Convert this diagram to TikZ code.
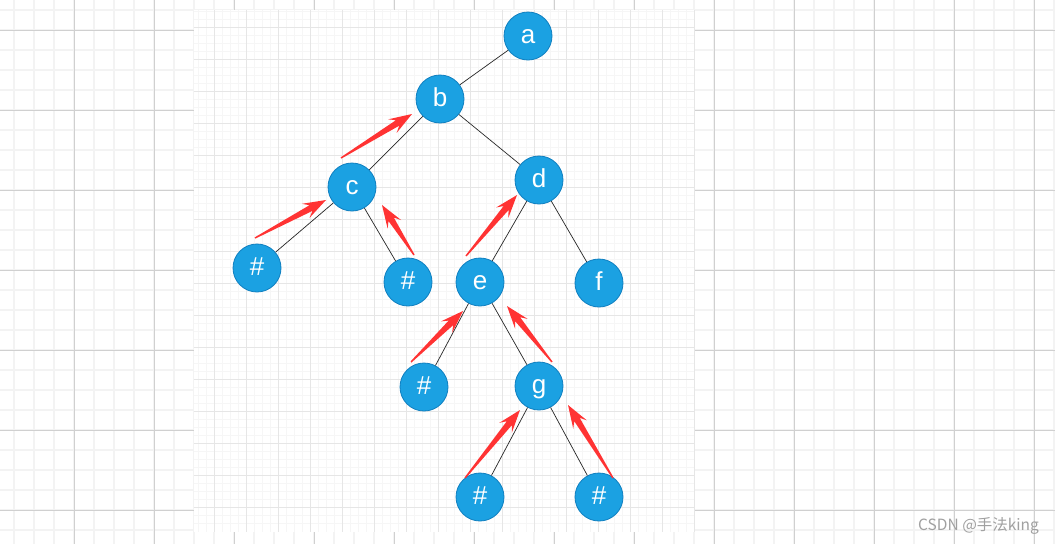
\documentclass[tikz,border=0pt]{standalone}
\usepackage{fontspec}
\setmainfont{Liberation Sans}
\newfontfamily\cjkfont{Noto Sans CJK SC}
\usepackage{xcolor}
\definecolor{nodeblue}{HTML}{1BA1E2}
\definecolor{nodeedge}{HTML}{0F7FC0}
\definecolor{arrowred}{HTML}{FF3333}
\definecolor{gridmajor}{HTML}{D0D0D0}
\definecolor{gridminor}{HTML}{F3F3F3}
\definecolor{pagemajor}{HTML}{E6E6E6}
\definecolor{pageminor}{HTML}{F6F6F6}
\definecolor{markgray}{HTML}{A0A0A0}
\usetikzlibrary{calc}

% red wedge arrow from #1 to #2
\newcommand{\backarrow}[2]{%
    \coordinate (hb) at ($(#2)!23pt!(#1)$);
    \coordinate (hj) at ($(#2)!17pt!(#1)$);
    \fill[arrowred] ($(#1)!0.7pt!90:(#2)$) -- ($(hj)!3.2pt!90:(#2)$) -- ($(hb)!8pt!90:(#2)$) -- (#2)
        -- ($(hb)!8pt!-90:(#2)$) -- ($(hj)!3.2pt!-90:(#2)$) -- ($(#1)!0.7pt!-90:(#2)$) -- cycle;
}

\begin{document}
\begin{tikzpicture}[
        x=1pt, y=-1pt,
        vertex/.style = {circle, draw=nodeedge, line width=0.8pt, fill=nodeblue,
                         minimum size=48pt, inner sep=0pt, text=white,
                         font=\fontsize{26}{30}\selectfont,
                         text height=23pt, text depth=8pt},
        branch/.style = {draw=black!85, line width=0.7pt}
    ]
        \useasboundingbox (0,0) rectangle (1055,544);
        \fill[white] (0,0) rectangle (1055,544);

        % ---- outer grid ----
        \foreach \gx in {14,34,...,1054} \draw[gridminor, line width=2pt] (\gx,0) -- (\gx,544);
        \foreach \gy in {10,30,...,530} \draw[gridminor, line width=2pt] (0,\gy) -- (1055,\gy);
        \foreach \gx in {74,154,...,1034} \draw[gridmajor, line width=0.8pt] (\gx,0) -- (\gx,544);
        \foreach \gy in {30,110,...,510} \draw[gridmajor, line width=0.8pt] (0,\gy) -- (1055,\gy);

        % ---- page ----
        \fill[white] (194,10) rectangle (695,532);
        \foreach \gx in {198.7,206.7,...,694} \draw[pageminor, line width=0.7pt] (\gx,10) -- (\gx,532);
        \foreach \gy in {11.3,19.3,...,531} \draw[pageminor, line width=0.7pt] (194,\gy) -- (695,\gy);
        \foreach \gx in {214.7,246.7,...,694} \draw[pagemajor, line width=0.8pt] (\gx,10) -- (\gx,532);
        \foreach \gy in {27.3,59.3,...,531} \draw[pagemajor, line width=0.8pt] (194,\gy) -- (695,\gy);
        \draw[pagemajor, line width=0.8pt] (694.7,10) -- (694.7,532);

        % ---- tree ----
        \node[vertex] (a)  at (528,36)  {a};
        \node[vertex] (b)  at (440,99)  {b};
        \node[vertex] (c)  at (352,187) {c};
        \node[vertex] (d)  at (539,180) {d};
        \node[vertex] (c1) at (257,268) {\#};
        \node[vertex] (c2) at (408,282) {\#};
        \node[vertex] (e)  at (480,282) {e};
        \node[vertex] (f)  at (599,283) {f};
        \node[vertex] (e1) at (424,387) {\#};
        \node[vertex] (g)  at (539,386) {g};
        \node[vertex] (g1) at (480,497) {\#};
        \node[vertex] (g2) at (599,497) {\#};

        \draw[branch] (a) -- (b);
        \draw[branch] (b) -- (c);
        \draw[branch] (b) -- (d);
        \draw[branch] (c) -- (c1);
        \draw[branch] (c) -- (c2);
        \draw[branch] (d) -- (e);
        \draw[branch] (d) -- (f);
        \draw[branch] (e) -- (e1);
        \draw[branch] (e) -- (g);
        \draw[branch] (g) -- (g1);
        \draw[branch] (g) -- (g2);

        % ---- return arrows ----
        \coordinate (cb-s) at (341,158);  \coordinate (cb-t) at (412,114);
        \coordinate (c1-s) at (255,238);  \coordinate (c1-t) at (326,200);
        \coordinate (c2-s) at (414,255);  \coordinate (c2-t) at (382,205);
        \coordinate (ed-s) at (466,256);  \coordinate (ed-t) at (517,195);
        \coordinate (e1-s) at (411,362);  \coordinate (e1-t) at (463,311);
        \coordinate (ge-s) at (552,362);  \coordinate (ge-t) at (507,306);
        \coordinate (g1-s) at (465,478);  \coordinate (g1-t) at (520,410);
        \coordinate (g2-s) at (613,478);  \coordinate (g2-t) at (568,405);
        \backarrow{cb-s}{cb-t}
        \backarrow{c1-s}{c1-t}
        \backarrow{c2-s}{c2-t}
        \backarrow{ed-s}{ed-t}
        \backarrow{e1-s}{e1-t}
        \backarrow{ge-s}{ge-t}
        \backarrow{g1-s}{g1-t}
        \backarrow{g2-s}{g2-t}

        % ---- watermark ----
        \node[anchor=base west, inner sep=0pt, text=markgray, font=\cjkfont\fontsize{15.5}{17}\selectfont]
            (mark) at (918,530) {CSDN @手法king};
    \end{tikzpicture}
\end{document}
